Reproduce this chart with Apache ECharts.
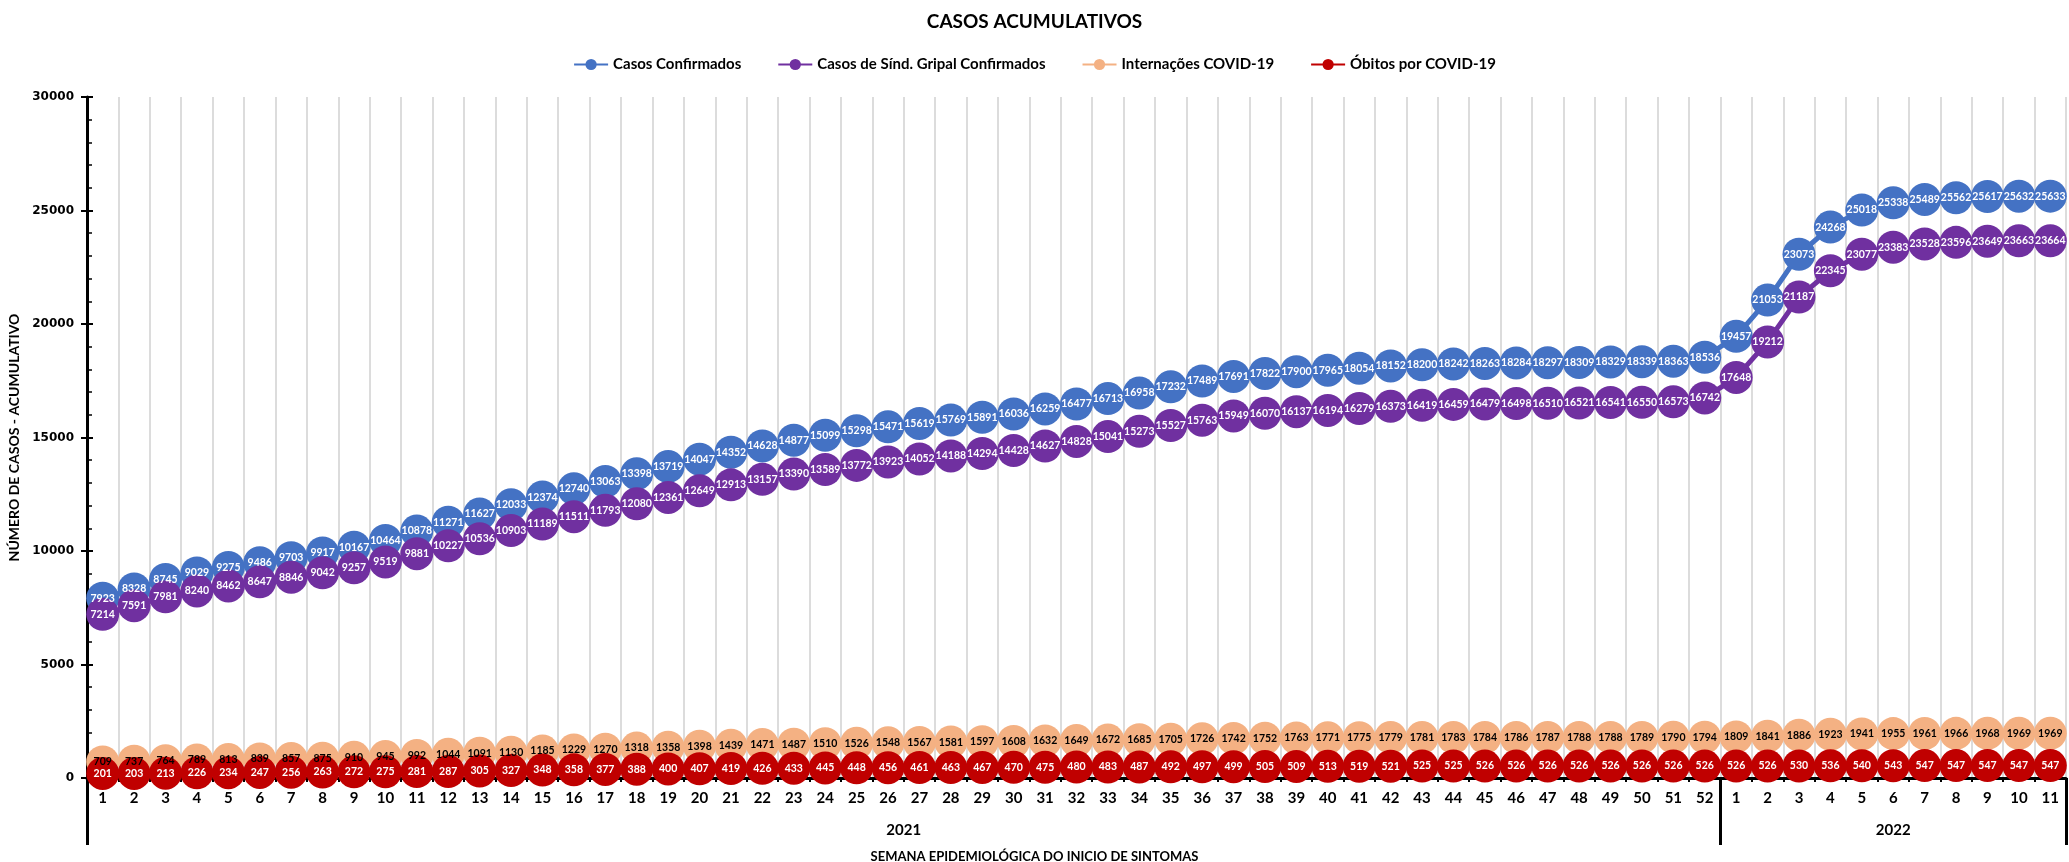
<!DOCTYPE html>
<html>
<head>
<meta charset="utf-8">
<title>Casos acumulativos</title>
<script src="https://cdn.jsdelivr.net/npm/echarts@6/dist/echarts.min.js"></script>
<style>
    html, body { margin: 0; padding: 0; background: #fff; }
    #chart { width: 2069px; height: 862px; }
</style>
</head>
<body>
<div id="chart"></div>
<script>
const years        = ['2021', '2022'];
const weeksPerYear = [52, 11];

const casosConfirmados = [
    7923, 8328, 8745, 9029, 9275, 9486, 9703, 9917, 10167, 10464,
    10878, 11271, 11627, 12033, 12374, 12740, 13063, 13398, 13719, 14047,
    14352, 14628, 14877, 15099, 15298, 15471, 15619, 15769, 15891, 16036,
    16259, 16477, 16713, 16958, 17232, 17489, 17691, 17822, 17900, 17965,
    18054, 18152, 18200, 18242, 18263, 18284, 18297, 18309, 18329, 18339, 18363, 18536,
    19457, 21053, 23073, 24268, 25018, 25338, 25489, 25562, 25617, 25632, 25633
];

const casosSindGripal = [
    7214, 7591, 7981, 8240, 8462, 8647, 8846, 9042, 9257, 9519,
    9881, 10227, 10536, 10903, 11189, 11511, 11793, 12080, 12361, 12649,
    12913, 13157, 13390, 13589, 13772, 13923, 14052, 14188, 14294, 14428,
    14627, 14828, 15041, 15273, 15527, 15763, 15949, 16070, 16137, 16194,
    16279, 16373, 16419, 16459, 16479, 16498, 16510, 16521, 16541, 16550, 16573, 16742,
    17648, 19212, 21187, 22345, 23077, 23383, 23528, 23596, 23649, 23663, 23664
];

const internacoes = [
    709, 737, 764, 789, 813, 839, 857, 875, 910, 945,
    992, 1044, 1091, 1130, 1185, 1229, 1270, 1318, 1358, 1398,
    1439, 1471, 1487, 1510, 1526, 1548, 1567, 1581, 1597, 1608,
    1632, 1649, 1672, 1685, 1705, 1726, 1742, 1752, 1763, 1771,
    1775, 1779, 1781, 1783, 1784, 1786, 1787, 1788, 1788, 1789, 1790, 1794,
    1809, 1841, 1886, 1923, 1941, 1955, 1961, 1966, 1968, 1969, 1969
];

const obitos = [
    201, 203, 213, 226, 234, 247, 256, 263, 272, 275,
    281, 287, 305, 327, 348, 358, 377, 388, 400, 407,
    419, 426, 433, 445, 448, 456, 461, 463, 467, 470,
    475, 480, 483, 487, 492, 497, 499, 505, 509, 513,
    519, 521, 525, 525, 526, 526, 526, 526, 526, 526, 526, 526,
    526, 526, 530, 536, 540, 543, 547, 547, 547, 547, 547
];

// semanas 1..n de cada ano, em sequência
const weeks = [];
weeksPerYear.forEach(n => {
    for (let w = 1; w <= n; w++) weeks.push(String(w));
});

// limites e centros de cada ano no eixo auxiliar (em unidades de categoria)
const yearBounds  = [0];
const yearCenters = [];
weeksPerYear.forEach(n => {
    const start = yearBounds[yearBounds.length - 1];
    yearCenters.push(start + n / 2);
    yearBounds.push(start + n);
});

const LABEL_FONT = 'Lato, "Noto Sans", sans-serif';

function lineSeries(name, data, color, textColor) {
    return {
        name:       name,
        type:       'line',
        data:       data,
        symbol:     'circle',
        symbolSize: 33,
        itemStyle:  { color: color },
        lineStyle:  { color: color, width: 5 },
        label: {
            show:       true,
            position:   'inside',
            color:      textColor,
            fontSize:   10.5,
            fontWeight: 'bold',
            fontFamily: LABEL_FONT,
        },
        emphasis: { disabled: true },
        animation: false,
    };
}

const chart = echarts.init(document.getElementById('chart'), null, { renderer: 'canvas' });

chart.setOption({
    backgroundColor: '#ffffff',
    title: [
        {
            text: 'CASOS ACUMULATIVOS',
            left: 'center',
            top: 7,
            textStyle: { fontFamily: LABEL_FONT, fontSize: 19, fontWeight: 'bold', color: '#000' },
        },
        {
            text: 'SEMANA EPIDEMIOLÓGICA DO INICIO DE SINTOMAS',
            left: 'center',
            top: 845,
            textStyle: { fontFamily: LABEL_FONT, fontSize: 13, fontWeight: 'bold', color: '#000' },
        },
    ],
    legend: {
        top: 52,
        left: 'center',
        itemWidth: 34,
        itemHeight: 14,
        itemGap: 36,
        textStyle: { fontFamily: LABEL_FONT, fontSize: 15, fontWeight: 'bold', color: '#000' },
        data: ['Casos Confirmados', 'Casos de Sínd. Gripal Confirmados', 'Internações COVID-19', 'Óbitos por COVID-19'],
    },
    grid: {
        left: 87,
        right: 3,
        top: 97,
        bottom: 84,
        outerBoundsMode: 'none',
    },
    xAxis: [
        {
            type: 'category',
            data: weeks,
            boundaryGap: true,
            axisLine: { show: true, lineStyle: { color: '#000', width: 3 } },
            axisTick: { show: true, length: 4, interval: 0, lineStyle: { color: '#000', width: 2 } },
            axisLabel: {
                interval: 0,
                margin: 13,
                fontFamily: LABEL_FONT,
                fontSize: 15,
                fontWeight: 'bold',
                color: '#000',
            },
            splitLine: { show: true, interval: 0, lineStyle: { color: '#d0d0d0', width: 1.5 } },
        },
        {
            type: 'value',
            position: 'bottom',
            min: 0,
            max: yearBounds[yearBounds.length - 1],
            axisLine: { show: false },
            axisTick: {
                show: true,
                length: 67,
                customValues: yearBounds,
                lineStyle: { color: '#000', width: 3 },
            },
            axisLabel: {
                show: true,
                margin: 45,
                customValues: yearCenters,
                formatter: v => years[yearCenters.indexOf(v)] ?? '',
                fontFamily: LABEL_FONT,
                fontSize: 15,
                fontWeight: 'bold',
                color: '#000',
            },
            splitLine: { show: false },
        },
    ],
    yAxis: [
        {
            type: 'value',
            min: 0,
            max: 30000,
            interval: 5000,
            name: 'NÚMERO DE CASOS - ACUMULATIVO',
            nameLocation: 'middle',
            nameGap: 61,
            nameTextStyle: { fontFamily: LABEL_FONT, fontSize: 14, fontWeight: 'bold', color: '#000' },
            axisLine: { show: true, lineStyle: { color: '#000', width: 3 } },
            axisTick: { show: true, length: 6, lineStyle: { color: '#000', width: 2 } },
            axisLabel: {
                margin: 13,
                formatter: v => String(v),
                fontFamily: '"DejaVu Sans", Verdana, sans-serif',
                fontSize: 12,
                fontWeight: 'bold',
                color: '#000',
            },
            splitLine: { show: false },
        },
        {
            type: 'value',
            position: 'left',
            min: 0,
            max: 30000,
            interval: 5000,
            axisLine: { show: false },
            axisTick: { show: true, inside: true, length: 6, lineStyle: { color: '#000', width: 2 } },
            minorTick: { show: true, splitNumber: 5, length: 5, lineStyle: { color: '#000', width: 1.5 } },
            axisLabel: { show: false },
            splitLine: { show: false },
        },
    ],
    series: [
        lineSeries('Casos Confirmados', casosConfirmados, '#4472C4', '#ffffff'),
        lineSeries('Casos de Sínd. Gripal Confirmados', casosSindGripal, '#7030A0', '#ffffff'),
        lineSeries('Internações COVID-19', internacoes, '#F4B183', '#000000'),
        lineSeries('Óbitos por COVID-19', obitos, '#C00000', '#ffffff'),
    ],
});

window.addEventListener('resize', () => chart.resize());
</script>
</body>
</html>
